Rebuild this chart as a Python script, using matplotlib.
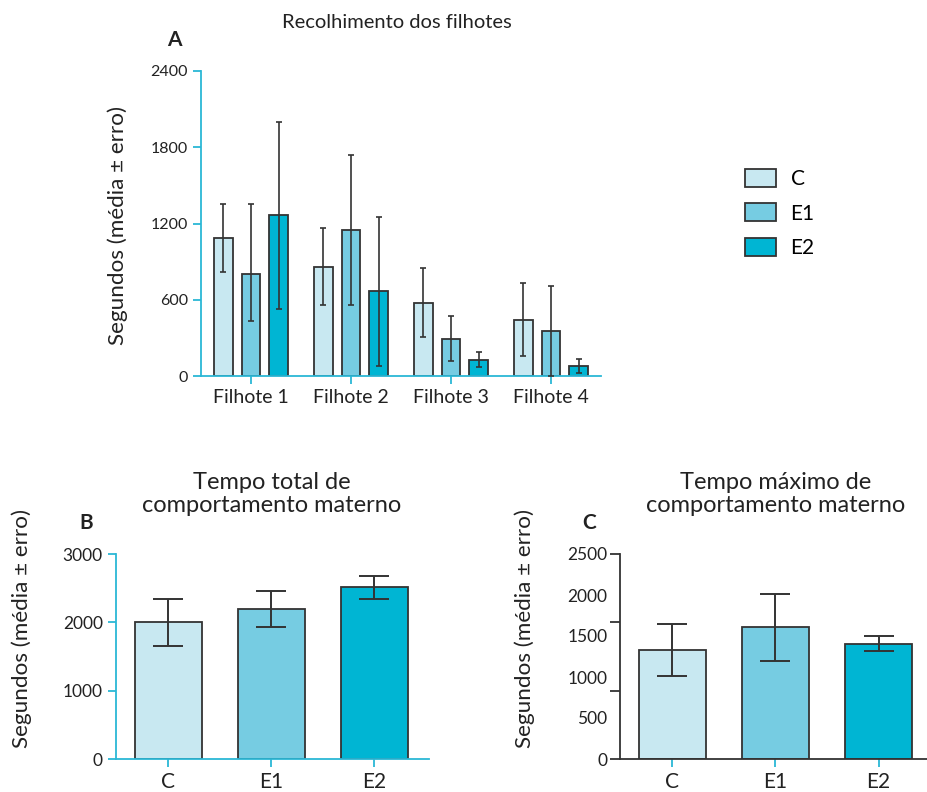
import numpy as np
import matplotlib
matplotlib.use("Agg")
import matplotlib.pyplot as plt
from matplotlib.patches import Patch

plt.rcParams['font.family'] = ['Lato', 'DejaVu Sans']

groups = ["C", "E1", "E2"]
pups = ["Filhote 1", "Filhote 2", "Filhote 3", "Filhote 4"]

# panel A: recolhimento dos filhotes (seconds), one list per group over pups 1-4
a_mean = {"C": [1090, 860, 578, 444], "E1": [805, 1151, 295, 353], "E2": [1264, 667, 128, 83]}
a_err_lo = {"C": [272, 303, 270, 282], "E1": [371, 594, 173, 353], "E2": [738, 584, 57, 55]}
a_err_hi = {"C": [260, 306, 270, 291], "E1": [545, 589, 178, 353], "E2": [732, 581, 65, 50]}

# panel B: tempo total
b_mean = [2000, 2200, 2510]
b_err = [340, 265, 175]

# panel C: tempo maximo
c_mean = [1330, 1605, 1405]
c_err = [318, 405, 92]

colors = {"C": "#c8e8f1", "E1": "#76cce2", "E2": "#00b5d3"}
cyan = "#2bb7d6"
edge = "#333333"
txt = "#222222"
ylab = "Segundos (média ± erro)"

fig = plt.figure(figsize=(9.27, 7.92), dpi=100)
W, H = 927, 792


def ax_px(left, right, top, bottom):
    return fig.add_axes([left / W, 1 - bottom / H, (right - left) / W, (bottom - top) / H])


def style(ax, spine_color, ysize):
    for s in ["top", "right"]:
        ax.spines[s].set_visible(False)
    for s in ["left", "bottom"]:
        ax.spines[s].set_color(spine_color)
        ax.spines[s].set_linewidth(1.3)
    ax.tick_params(axis="both", colors=spine_color, labelcolor=txt, width=1.3, length=6)
    ax.tick_params(axis="y", labelsize=ysize)


# ---- panel A
axA = ax_px(201, 601, 70.7, 376.3)
x = np.arange(len(pups))
offs = [-0.277, 0, 0.277]
for g, o in zip(groups, offs):
    axA.bar(x + o, a_mean[g], width=0.187, color=colors[g], edgecolor=edge, linewidth=1.3, zorder=2)
    axA.errorbar(x + o, a_mean[g], yerr=[a_err_lo[g], a_err_hi[g]], fmt="none",
                 ecolor=edge, elinewidth=1.2, capsize=2.5, capthick=1.2, zorder=3)
axA.set_xlim(-0.5, 3.5)
axA.set_ylim(0, 2400)
axA.set_yticks([0, 600, 1200, 1800, 2400])
axA.set_xticks(x)
axA.set_xticklabels(pups, fontsize=14)
style(axA, cyan, 11.5)
axA.set_ylabel(ylab, fontsize=16.2, color=txt)
axA.yaxis.set_label_coords(-0.183, 0.494)
fig.text(397 / W, 1 - 23 / H, "Recolhimento dos filhotes", ha="center", va="center", fontsize=14.5, color=txt)
fig.text(174 / W, 1 - 40 / H, "A", ha="center", va="center", fontsize=15, fontweight="bold", color=txt)

handles = [Patch(facecolor=colors[g], edgecolor=edge, linewidth=1.3, label=g) for g in groups]
fig.legend(handles=handles, loc="upper left", bbox_to_anchor=(726 / W, 1 - 150 / H), frameon=False,
           fontsize=15, handlelength=1.5, handleheight=0.95, labelspacing=0.7, handletextpad=0.7)

# ---- panel B
xb = np.arange(len(groups))
axB = ax_px(116, 429, 554, 759)
axB.bar(xb, b_mean, width=0.647, color=[colors[g] for g in groups], edgecolor=edge, linewidth=1.3, zorder=2)
axB.errorbar(xb, b_mean, yerr=b_err, fmt="none", ecolor=edge, elinewidth=1.4, capsize=11, capthick=1.4, zorder=3)
axB.set_xlim(-0.508, 2.53)
axB.set_ylim(0, 3000)
axB.set_yticks([0, 1000, 2000, 3000])
axB.set_xticks(xb)
axB.set_xticklabels(groups, fontsize=15)
style(axB, cyan, 12.5)
axB.set_ylabel(ylab, fontsize=16.2, color=txt)
axB.yaxis.set_label_coords(-0.268, 0.637)
fig.text(272 / W, 1 - 494 / H, "Tempo total de\ncomportamento materno", ha="center", va="center",
         fontsize=17, color=txt, linespacing=1.1)
fig.text(86 / W, 1 - 523 / H, "B", ha="center", va="center", fontsize=15, fontweight="bold", color=txt)

# ---- panel C
axC = ax_px(620, 927, 554, 759)
axC.bar(xb, c_mean, width=0.647, color=[colors[g] for g in groups], edgecolor=edge, linewidth=1.3, zorder=2)
axC.errorbar(xb, c_mean, yerr=c_err, fmt="none", ecolor=edge, elinewidth=1.4, capsize=11, capthick=1.4, zorder=3)
axC.set_xlim(-0.508, 2.47)
axC.set_ylim(0, 2500)
axC.set_yticks([0, 500, 1000, 1500, 2000, 2500])
axC.set_yticks([2500 / 3, 5000 / 3], minor=True)
axC.set_xticks(xb)
axC.set_xticklabels(groups, fontsize=15)
style(axC, edge, 12.5)
axC.tick_params(axis="x", colors=cyan, labelcolor=txt)
axC.tick_params(axis="y", which="major", length=0, pad=9)
axC.tick_params(axis="y", which="minor", length=7, width=1.3, colors=edge)
ytl = axC.yaxis.get_major_ticks()
ytl[0].tick1line.set_markersize(7)
ytl[0].tick1line.set_color(cyan)
ytl[-1].tick1line.set_markersize(7)
ytl[-1].tick1line.set_color(edge)
axC.set_ylabel(ylab, fontsize=16.2, color=txt)
axC.yaxis.set_label_coords(-0.277, 0.637)
fig.text(776 / W, 1 - 494 / H, "Tempo máximo de\ncomportamento materno", ha="center", va="center",
         fontsize=17, color=txt, linespacing=1.1)
fig.text(589 / W, 1 - 523 / H, "C", ha="center", va="center", fontsize=15, fontweight="bold", color=txt)

fig.savefig("out.png", dpi=100)
